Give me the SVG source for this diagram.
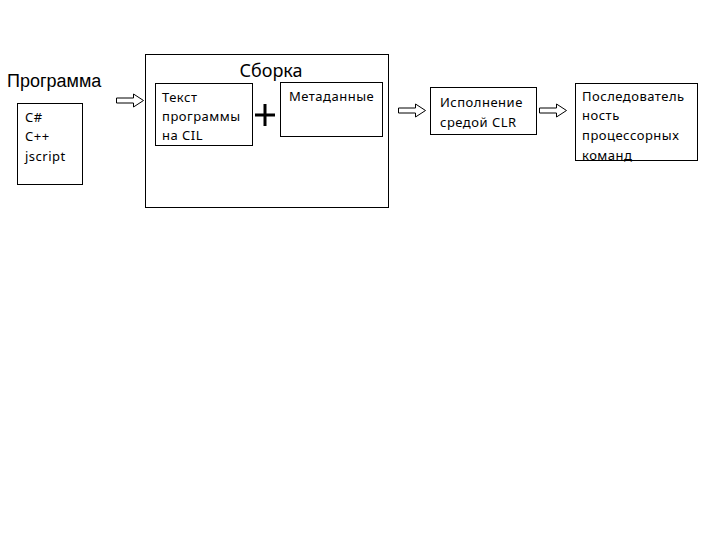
<svg xmlns="http://www.w3.org/2000/svg" width="720" height="540" viewBox="0 0 720 540">
<style>
.box{fill:#fff;stroke:#000;stroke-width:1}
.t{font-family:"Noto Sans","Open Sans",sans-serif;font-size:13px;letter-spacing:0.5px;fill:#000}
.h{font-family:"Liberation Sans",Arial,sans-serif;font-size:18px;fill:#000}
.arr{fill:#fff;stroke:#000;stroke-width:1}
</style>
<defs>
<path id="ba" d="M0,-2.5 H17 V-6.5 L27,0 L17,6.5 V2.5 H0 Z"/>
</defs>
<rect width="720" height="540" fill="#fff"/>
<g id="program">
<text class="h" x="7" y="87">Программа</text>
<rect class="box" x="17.5" y="103.5" width="65" height="81"/>
<text class="t" x="25" y="122">C#</text>
<text class="t" x="25" y="141">C++</text>
<text class="t" x="25" y="161">jscript</text>
</g>
<g id="assembly">
<rect class="box" x="145.5" y="54.5" width="243" height="153"/>
<text class="h" x="271" y="77" text-anchor="middle" style="font-family:'Noto Sans',sans-serif">Сборка</text>
</g>
<g id="cil">
<rect class="box" x="155.5" y="83.5" width="97" height="62"/>
<text class="t" x="162" y="102">Текст</text>
<text class="t" x="162" y="121">программы</text>
<text class="t" x="162" y="140">на CIL</text>
</g>
<g id="plus">
<path d="M255,115 H275 M265,104 V126" stroke="#000" stroke-width="3"/>
</g>
<g id="metadata">
<rect class="box" x="280.5" y="82.5" width="102" height="54"/>
<text class="t" x="289" y="101">Метаданные</text>
</g>
<g id="clr">
<rect class="box" x="430.5" y="87.5" width="106" height="47"/>
<text class="t" x="440" y="107">Исполнение</text>
<text class="t" x="440" y="127">средой CLR</text>
</g>
<g id="commands">
<rect class="box" x="575.5" y="83.5" width="122" height="77"/>
<text class="t" x="582" y="101">Последователь</text>
<text class="t" x="582" y="120">ность</text>
<text class="t" x="582" y="140">процессорных</text>
<text class="t" x="582" y="160">команд</text>
</g>
<g id="connectors">
<use href="#ba" class="arr" transform="translate(116.5,100.5)"/>
<use href="#ba" class="arr" transform="translate(398.5,110.5)"/>
<use href="#ba" class="arr" transform="translate(539.5,110.5)"/>
</g>
</svg>
